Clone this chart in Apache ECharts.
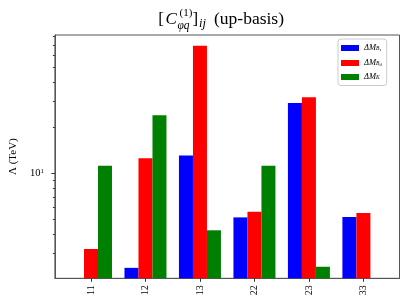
<!DOCTYPE html>
<html><head><meta charset="utf-8">
<script src="https://cdn.jsdelivr.net/npm/echarts@6/dist/echarts.min.js"></script>
<style>html,body{margin:0;padding:0;background:#fff}#c{width:410px;height:305px}</style>
</head><body><div id="c"></div>
<script>
const categories = ['11', '12', '13', '22', '23', '33'];
const dMBs = [null, 2.39, 13.1, 5.13, 29.0, 5.16];
const dMBd = [3.18, 12.55, 69.1, 5.59, 31.6, 5.48];
const dMK  = [11.2, 24.1, 4.22, 11.2, 2.43, null];
const seriesNames = ['ΔM_Bs', 'ΔM_Bd', 'ΔM_K'];
const majorTicks = [10];
const minorTicks = [3, 4, 5, 6, 7, 8, 9, 20, 30, 40, 50, 60, 70, 80];
const catPositions = [0, 1, 2, 3, 4, 5];

const FONT = 'Liberation Serif';
const chart = echarts.init(document.getElementById('c'), null, {renderer: 'canvas'});
const yMin = 2.04, yMax = 81.2;
const toPairs = arr => arr.map((v, i) => [catPositions[i], v]);

const legendFmt = {
  'ΔM_Bs': '{m|ΔM}{s|B}{ss|s}',
  'ΔM_Bd': '{m|ΔM}{s|B}{ss|d}',
  'ΔM_K': '{m|ΔM}{s|K}'
};

const option = {
  animation: false,
  backgroundColor: '#fff',
  grid: {left: 47.5, top: 35, width: 352, height: 243.3, show: true, borderColor: '#555', borderWidth: 1, backgroundColor: 'transparent'},
  xAxis: {
    type: 'value', min: -0.6625, max: 5.6625,
    axisLine: {show: true, onZero: false, lineStyle: {color: '#555', width: 1}},
    splitLine: {show: false},
    axisTick: {show: true, length: 3.5, lineStyle: {color: '#333'}, customValues: catPositions},
    axisLabel: {customValues: catPositions, rotate: 90, margin: 7, fontFamily: FONT, fontSize: 10, color: '#000',
      formatter: v => categories[Math.round(v)]}
  },
  yAxis: [{
    type: 'log', logBase: 10, min: yMin, max: yMax,
    name: 'Λ (TeV)', nameLocation: 'middle', nameGap: 30,
    nameTextStyle: {fontFamily: FONT, fontSize: 11, color: '#000'},
    axisLine: {show: true, onZero: false, lineStyle: {color: '#555', width: 1}},
    splitLine: {show: false},
    axisTick: {show: true, length: 3.5, lineStyle: {color: '#333'}, customValues: majorTicks},
    axisLabel: {customValues: majorTicks, margin: 11, fontFamily: FONT, fontSize: 10.5, color: '#000',
      formatter: v => '{a|10}{b|' + Math.round(Math.log10(v)) + '}',
      rich: {a: {fontFamily: FONT, fontSize: 10.5, color: '#000'}, b: {fontFamily: FONT, fontSize: 7, color: '#000', verticalAlign: 'top', padding: [0, 0, 4, 0]}}}
  }, {
    type: 'log', logBase: 10, min: yMin, max: yMax, position: 'left',
    axisLine: {show: false, onZero: false}, splitLine: {show: false},
    axisTick: {show: true, length: 2, lineStyle: {color: '#333'}, customValues: minorTicks},
    axisLabel: {show: false}
  }],
  legend: {
    orient: 'vertical', left: 338, top: 39,
    itemWidth: 18, itemHeight: 6, itemGap: 4.5,
    padding: [3, 5, 4, 3],
    borderColor: '#ccc', borderWidth: 1, borderRadius: 3, backgroundColor: '#fff',
    icon: 'rect',
    data: seriesNames,
    formatter: n => legendFmt[n],
    textStyle: {fontFamily: FONT, fontSize: 8, color: '#000', lineHeight: 8,
      rich: {
        m: {fontFamily: FONT, fontSize: 8.5, fontStyle: 'italic', lineHeight: 8},
        s: {fontFamily: FONT, fontSize: 5.5, fontStyle: 'italic', verticalAlign: 'bottom', lineHeight: 8, padding: [3, 0, 0, 0]},
        ss: {fontFamily: FONT, fontSize: 4.5, fontStyle: 'italic', verticalAlign: 'bottom', lineHeight: 8, padding: [5, 0, 0, 0]}
      }}
  },
  series: [
    {name: seriesNames[0], type: 'bar', data: toPairs(dMBs), barWidth: 14, barGap: '0%', itemStyle: {color: '#0000ff'}},
    {name: seriesNames[1], type: 'bar', data: toPairs(dMBd), barWidth: 14, barGap: '0%', itemStyle: {color: '#ff0000'}},
    {name: seriesNames[2], type: 'bar', data: toPairs(dMK), barWidth: 14, barGap: '0%', itemStyle: {color: '#008000'}}
  ],
  graphic: [
    {type: 'text', x: 158.3, y: 19.4, silent: true, style: {text: '[', font: '17px "Liberation Serif"', fill: '#000', verticalAlign: 'middle'}},
    {type: 'text', x: 165.5, y: 19.4, silent: true, style: {text: 'C', font: 'italic 17px "Liberation Serif"', fill: '#000', verticalAlign: 'middle'}},
    {type: 'text', x: 179.5, y: 13.6, silent: true, style: {text: '(1)', font: '11px "Liberation Serif"', fill: '#000', verticalAlign: 'middle'}},
    {type: 'text', x: 177.5, y: 25.8, silent: true, style: {text: 'φq', font: 'italic 11.5px "Liberation Serif"', fill: '#000', verticalAlign: 'middle'}},
    {type: 'text', x: 192.5, y: 19.4, silent: true, style: {text: ']', font: '17px "Liberation Serif"', fill: '#000', verticalAlign: 'middle'}},
    {type: 'text', x: 199, y: 23.6, silent: true, style: {text: 'ij', font: 'italic 12.5px "Liberation Serif"', fill: '#000', verticalAlign: 'middle'}},
    {type: 'text', x: 214, y: 19.4, silent: true, style: {text: '(up-basis)', font: '17.5px "Liberation Serif"', fill: '#000', verticalAlign: 'middle'}}
  ]
};
chart.setOption(option);
</script></body></html>
